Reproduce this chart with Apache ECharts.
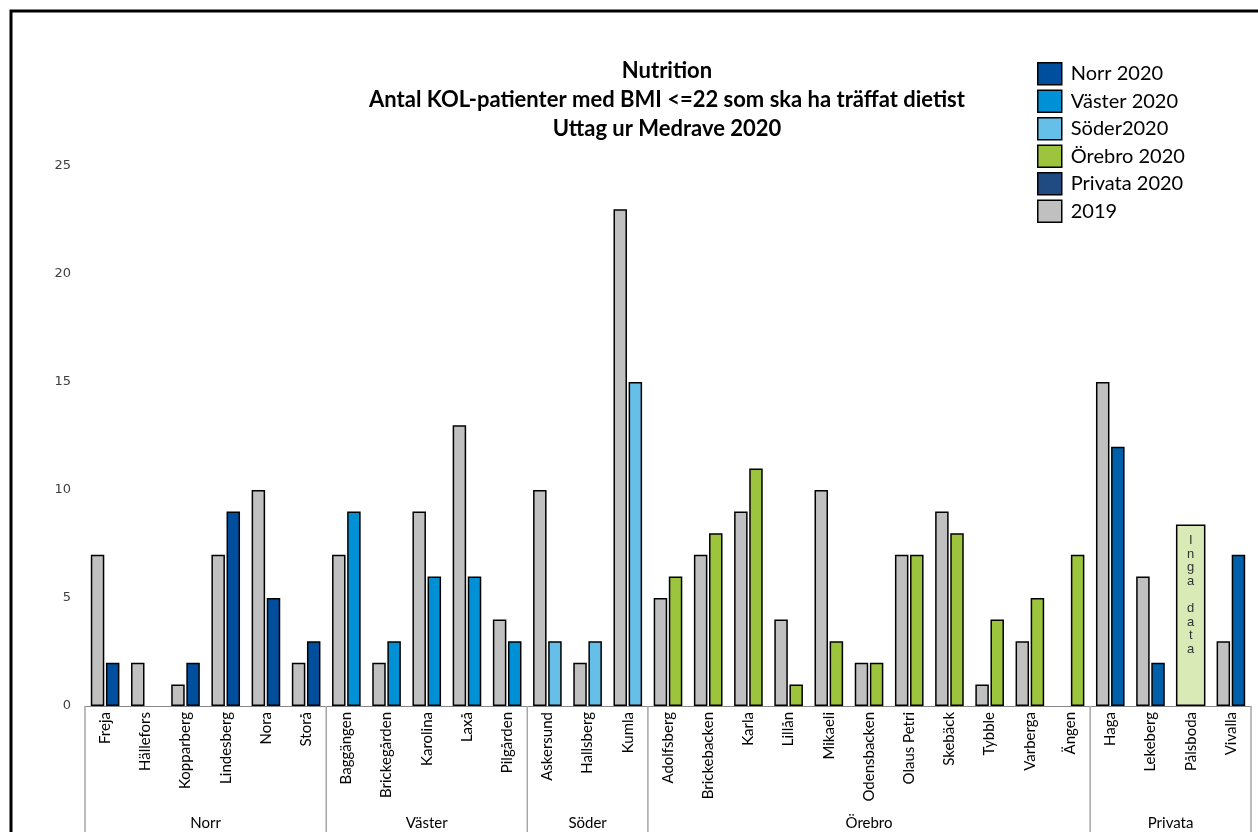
<!DOCTYPE html>
<html>
<head>
<meta charset="utf-8">
<script src="https://cdn.jsdelivr.net/npm/echarts@6/dist/echarts.min.js"></script>
<style>
  html, body { margin: 0; padding: 0; background: #fff; }
  #chart { width: 1258px; height: 832px; }
</style>
</head>
<body>
<div id="chart"></div>
<script>
// Units, in the order they are drawn along the x axis
const categories = [
  'Freja', 'Hällefors', 'Kopparberg', 'Lindesberg', 'Nora', 'Storå',
  'Baggängen', 'Brickegården', 'Karolina', 'Laxå', 'Pilgården',
  'Askersund', 'Hallsberg', 'Kumla',
  'Adolfsberg', 'Brickebacken', 'Karla', 'Lillån', 'Mikaeli', 'Odensbacken',
  'Olaus Petri', 'Skebäck', 'Tybble', 'Varberga', 'Ängen',
  'Haga', 'Lekeberg', 'Pålsboda', 'Vivalla'
];
// Areas and how many units each one has
const groupNames = ['Norr', 'Väster', 'Söder', 'Örebro', 'Privata'];
const groupSizes = [6, 5, 3, 11, 4];
const seriesNames2020 = ['Norr 2020', 'Väster 2020', 'Söder2020', 'Örebro 2020', 'Privata 2020'];

// Patients per unit
const values2019 = [
  7, 2, 1, 7, 10, 2,
  7, 2, 9, 13, 4,
  10, 2, 23,
  5, 7, 9, 4, 10, 2, 7, 9, 1, 3, null,
  15, 6, null, 3
];
const values2020 = [
  2, null, 2, 9, 5, 3,
  9, 3, 6, 6, 3,
  3, 3, 15,
  6, 8, 11, 1, 3, 2, 7, 8, 4, 5, 7,
  12, 2, null, 7
];
// Height of the "Inga data" box for Pålsboda
const noDataHeight = [
  null, null, null, null, null, null,
  null, null, null, null, null,
  null, null, null,
  null, null, null, null, null, null, null, null, null, null, null,
  null, null, 8.4, null
];
const yTicks = { min: 0, max: 25, interval: 5 };

const colors2020 = ['#004f9e', '#0090d5', '#66bfe8', '#9dc43d', '#0060a9'];
const legendColors2020 = ['#004f9e', '#0090d5', '#66bfe8', '#9dc43d', '#1f4a82'];
const color2019 = '#c0c0c0';

// Index ranges for each area
const groups = [];
let start = 0;
groupNames.forEach((name, i) => {
  groups.push({ name, start, end: start + groupSizes[i] - 1 });
  start += groupSizes[i];
});

const barBorder = { borderColor: '#000', borderWidth: 1.5 };

const series = [{
  name: '2019',
  type: 'bar',
  data: values2019,
  barWidth: 13.5,
  barGap: '12%',
  itemStyle: Object.assign({ color: color2019 }, barBorder)
}];

groups.forEach((g, i) => {
  series.push({
    name: seriesNames2020[i],
    type: 'bar',
    stack: 'y2020',
    barWidth: 13.5,
    data: values2020.map((v, k) => (k >= g.start && k <= g.end ? v : null)),
    itemStyle: Object.assign({ color: colors2020[i] }, barBorder)
  });
});

series.push({
  name: 'Inga data',
  type: 'bar',
  xAxisIndex: 1,
  barWidth: 29.5,
  data: noDataHeight,
  z: 3,
  itemStyle: Object.assign({ color: '#d9eab7' }, barBorder),
  label: {
    show: true,
    position: 'insideTop',
    distance: 9,
    formatter: 'I\nn\ng\na\n\nd\na\nt\na',
    fontFamily: 'Liberation Sans, Arial, sans-serif',
    fontSize: 13,
    lineHeight: 13.6,
    color: '#333'
  }
});

// Area dividers and area names under the unit labels
series.push({
  name: 'areas',
  type: 'custom',
  silent: true,
  clip: false,
  z: 1,
  data: groups.map(g => [g.start, 0]),
  encode: { x: 0, y: 1 },
  renderItem(params, api) {
    const g = groups[params.dataIndex];
    const band = api.size([1, 0])[0];
    const x0 = api.coord([g.start, 0])[0] - band / 2;
    const x1 = api.coord([g.end, 0])[0] + band / 2;
    const y0 = api.coord([g.start, 0])[1];
    const lineStyle = { stroke: '#a6a6a6', lineWidth: 1.5 };
    const children = [{
      type: 'line',
      shape: { x1: x0, y1: y0, x2: x0, y2: y0 + 140 },
      style: lineStyle
    }];
    if (params.dataIndex === groups.length - 1) {
      children.push({
        type: 'line',
        shape: { x1: x1, y1: y0, x2: x1, y2: y0 + 140 },
        style: lineStyle
      });
    }
    children.push({
      type: 'text',
      style: {
        x: (x0 + x1) / 2,
        y: y0 + 117,
        text: g.name,
        textAlign: 'center',
        textVerticalAlign: 'middle',
        fontFamily: 'Lato, sans-serif',
        fontSize: 15,
        fill: '#000'
      }
    });
    return { type: 'group', children };
  }
});

const chart = echarts.init(document.getElementById('chart'), null, { renderer: 'canvas' });
chart.setOption({
  backgroundColor: '#fff',
  animation: false,
  title: {
    text: 'Nutrition\nAntal KOL-patienter med BMI <=22 som ska ha träffat dietist\nUttag ur Medrave 2020',
    left: 662,
    top: 51,
    textAlign: 'center',
    textStyle: {
      fontFamily: 'Lato, sans-serif',
      fontWeight: 'bold',
      fontSize: 22,
      lineHeight: 29,
      color: '#000'
    }
  },
  legend: {
    orient: 'vertical',
    left: 1032,
    top: 57,
    itemWidth: 24,
    itemHeight: 22,
    itemGap: 4,
    icon: 'rect',
    textStyle: {
      fontFamily: 'Lato, sans-serif',
      fontSize: 20,
      color: '#000',
      padding: [0, 0, 0, 4]
    },
    data: seriesNames2020.map((n, i) => ({
      name: n,
      itemStyle: { color: legendColors2020[i], borderColor: '#000', borderWidth: 1.5 }
    })).concat([{ name: '2019', itemStyle: { color: color2019, borderColor: '#000', borderWidth: 1.5 } }])
  },
  grid: { left: 85, right: 7, top: 166, bottom: 126, containLabel: false },
  xAxis: [{
    type: 'category',
    data: categories,
    axisLine: { show: true, lineStyle: { color: '#868686', width: 1 } },
    axisTick: { show: false },
    axisLabel: {
      interval: 0,
      rotate: 90,
      margin: 6,
      fontFamily: 'Lato, sans-serif',
      fontSize: 15,
      color: '#000'
    }
  }, {
    type: 'category',
    data: categories,
    show: false
  }],
  yAxis: {
    type: 'value',
    min: yTicks.min,
    max: yTicks.max,
    interval: yTicks.interval,
    axisLine: { show: false },
    axisTick: { show: false },
    splitLine: { show: false },
    axisLabel: {
      margin: 14,
      fontFamily: 'DejaVu Sans, sans-serif',
      fontSize: 13,
      color: '#404040'
    }
  },
  graphic: [{
    type: 'polyline',
    silent: true,
    shape: { points: [[11, 840], [11, 11], [1260, 11]] },
    style: { stroke: '#000', lineWidth: 3, fill: null }
  }],
  series
});
</script>
</body>
</html>
